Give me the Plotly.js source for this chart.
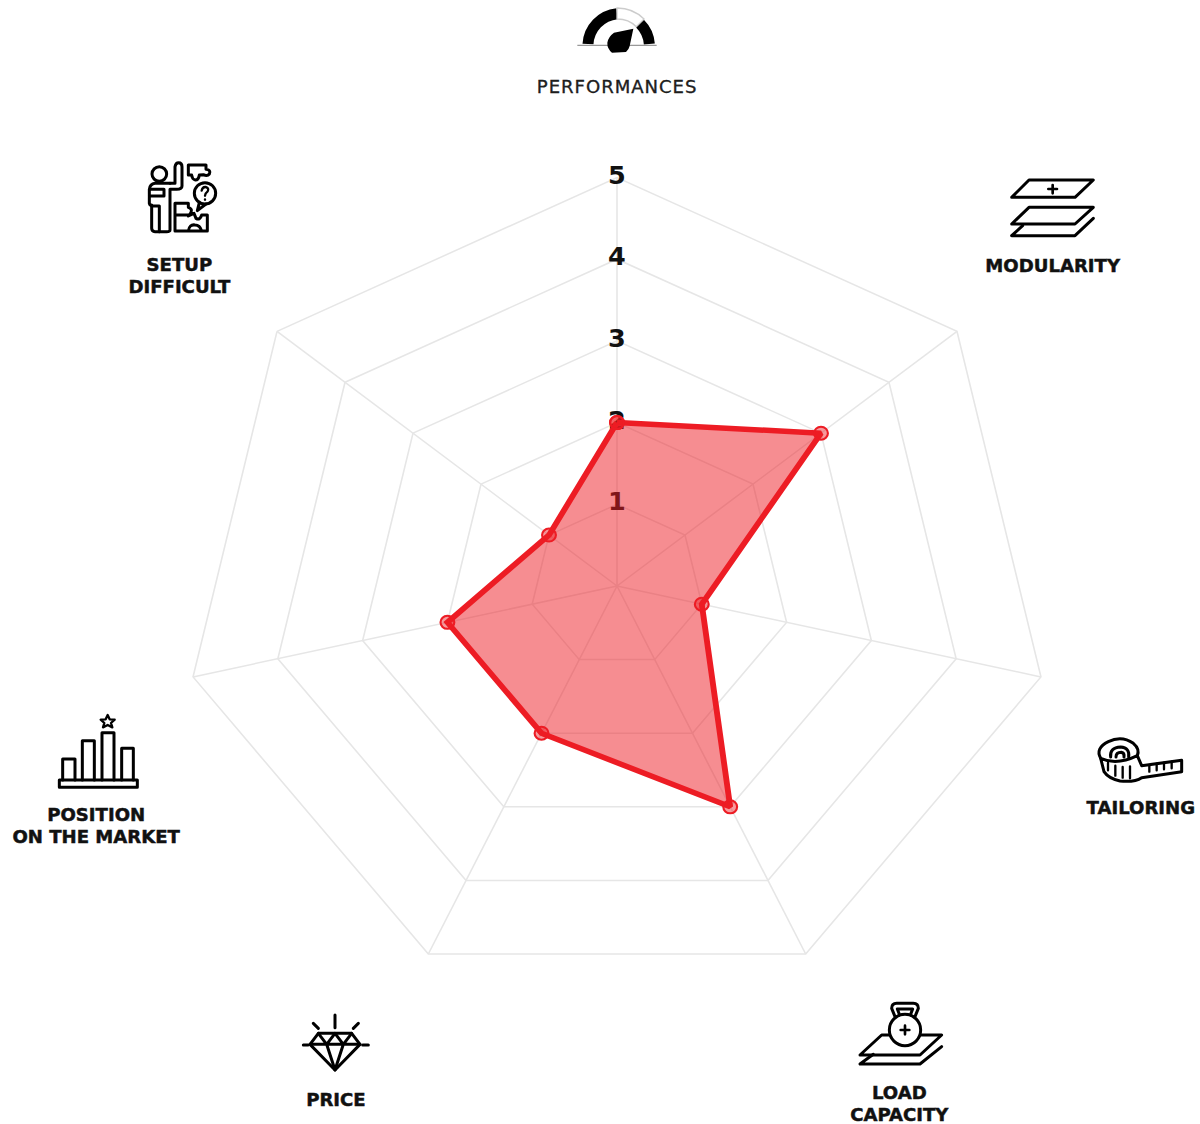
<!DOCTYPE html>
<html>
<head>
<meta charset="utf-8">
<script src="https://cdn.plot.ly/plotly-3.0.1.min.js"></script>
<style>
html,body{margin:0;padding:0;background:#fff;width:1200px;height:1124px;overflow:hidden}
#chart{width:1200px;height:1124px;transform-origin:617px 0;transform:scaleX(1.0645)}
#chart .annotation text{stroke:#111;stroke-width:.45px}
#chart .annotation[data-index="0"] text{letter-spacing:.9px;stroke-width:.3px}
</style>
</head>
<body>
<div id="chart"></div>
<script>
// ---- data ----
const categories = ['PERFORMANCES','MODULARITY','TAILORING','LOAD CAPACITY','PRICE','POSITION ON THE MARKET','SETUP DIFFICULT'];
const scores = [2,3,1,3,2,2,1];
const radialTicks = [1,2,3,4,5];
const radialTickLabels = ['1','2','3','4','5'];
const axisLabels = ['PERFORMANCES','MODULARITY','TAILORING','LOAD<br>CAPACITY','PRICE','POSITION<br>ON THE MARKET','SETUP<br>DIFFICULT'];
// ---- layout constants (target pixel positions) ----
const W=1200,H=1124,CX=617,CY=586,R=408.5,STRETCH=1.0645;
const labelX=[617,1053,1141,900,336,96,180];
const labelY=[87,266,808,1104,1100,826,276];
const px=x=>(CX+(x-CX)/STRETCH)/W;
const py=y=>1-y/H;
const RED='#ed1c24';
const S='fill="none" stroke="#000" stroke-width="9" stroke-linejoin="round" stroke-linecap="round"';
// icons: drawn in 3x crop units; box=[left,top,width,height] in target pixels
const icons=[
{box:[520,0,200,110],body:`
 <g fill="none" stroke-width="33"><path d="M204 132A97 97 0 0 1 291 41" stroke="#000"/><path d="M360 71A97 97 0 0 1 388 132" stroke="#000"/></g>
 <path d="M291 24A114 114 0 0 1 372 57L349 80A81 81 0 0 0 291 57Z" fill="#fff" stroke="#ccc" stroke-width="4"/>
 <path d="M172 136H410" stroke="#999" stroke-width="4"/>
 <path d="M340 86L282 98Q265 110 262 128Q261 145 276 158L318 156Q327 148 329 138Z" fill="#000"/>`},
{box:[980,165,150,120],body:`<g ${S}>
 <path d="M147 45H340L285 97H95Z"/><path d="M218 60V85M205 72H231" stroke-width="8"/>
 <path d="M147 127H340L285 177H95Z"/><path d="M128 182L95 212H285L340 160"/></g>`},
{box:[1080,725,120,100],body:`<g ${S}>
 <path d="M62 100Q45 70 85 50Q125 30 160 55Q180 72 172 92"/>
 <path d="M92 96Q88 68 122 66Q150 68 146 96M108 96Q108 82 124 82Q134 84 132 96"/>
 <path d="M62 100Q110 122 172 92L185 122L305 106V140L185 158Q165 172 120 168Q85 160 72 140Z"/>
 <path d="M84 114V136M106 122V152M128 126V158M150 124V160M208 120V140M230 116V136M252 113V133M275 110V130" stroke-width="7"/></g>`},
{box:[840,995,120,129],body:`<g ${S}>
 <path d="M125 120H305L240 180H60Z"/><path d="M100 178L60 207H240L305 155"/>
 <circle cx="195" cy="105" r="47" fill="#fff"/>
 <path d="M165 65L155 40Q155 25 170 25H220Q235 25 235 40L225 65M178 58L172 42H218L212 58"/>
 <path d="M195 92V118M182 105H208" stroke-width="8"/></g>`},
{box:[290,1005,90,110],body:`<g ${S}>
 <path d="M60 118L85 85H185L210 118L135 195Z"/><path d="M85 85L110 118L135 85L160 118L185 85M60 118H210M110 118L135 195L160 118"/>
 <path d="M135 30V68M70 55L85 70M205 55L190 70M40 120H54M218 120H235"/></g>`},
{box:[5,705,180,150],body:`<g ${S}>
 <rect x="163" y="225" width="234" height="22"/>
 <path d="M173 225V162H210V225M232 225V107H268V225M291 225V83H327V225M350 225V130H385V225"/>
 <path d="M308 30L314 43L329 44L318 54L322 67L308 60L294 67L298 54L287 44L302 43Z" stroke-width="7"/></g>`},
{box:[120,150,120,150],body:`<g ${S}>
 <circle cx="118" cy="72" r="22"/>
 <path d="M150 100H165V50Q167 38 176 38Q186 38 186 50V108Q186 118 170 118H150V240Q150 245 140 245H105Q95 245 95 235V165"/>
 <path d="M150 100H105Q90 102 88 118V160Q90 168 100 168H118V245M88 118H132V138H90"/>
 <path d="M205 45H258V58Q274 60 268 72Q262 80 250 74L238 75Q236 90 226 90Q216 88 215 75H205Z"/>
 <circle cx="255" cy="130" r="32"/><path d="M238 158L232 182L258 162"/>
 <path d="M245 122Q247 110 257 111Q268 114 263 124Q255 130 255 137M255 148V149" stroke-width="7"/>
 <path d="M165 160H205V172Q222 178 208 195H165ZM165 195V243H262V195H245Q240 212 228 205L222 190L205 198M205 243Q208 222 225 225Q240 225 245 243"/></g>`}
];
const images=icons.map(ic=>{
  const [l,t,w,h]=ic.box;
  const svg=`<svg xmlns="http://www.w3.org/2000/svg" viewBox="0 0 ${w*3} ${h*3}" width="${w*3}" height="${h*3}" preserveAspectRatio="none">${ic.body}</svg>`;
  return {source:'data:image/svg+xml;charset=utf-8,'+encodeURIComponent(svg),xref:'paper',yref:'paper',
    x:px(l),y:py(t),sizex:w/STRETCH/W,sizey:h/H,xanchor:'left',yanchor:'top',sizing:'stretch',layer:'above'};
});
const annotations=axisLabels.map((t,i)=>({text:t,xref:'paper',yref:'paper',x:px(labelX[i]),y:py(labelY[i]),
  xanchor:'center',yanchor:'middle',showarrow:false,align:'center',
  font:{family:'"DejaVu Sans",sans-serif',size:i===0?17:17,color:i===0?'#222':'#111',weight:i===0?400:700}}));

const traces=[
{type:'scatterpolar',mode:'text',r:radialTicks,theta:radialTicks.map(()=>categories[0]),text:radialTickLabels,
 textposition:'middle center',textfont:{family:'"DejaVu Sans",sans-serif',size:24,color:'#111',weight:700},
 hoverinfo:'skip',showlegend:false},
{type:'scatterpolar',mode:'lines+markers',r:[...scores,scores[0]],theta:[...categories,categories[0]],
 fill:'toself',fillcolor:'rgba(237,28,36,0.5)',line:{color:RED,width:5.5},
 marker:{size:13,color:'rgba(237,28,36,0.45)',line:{color:RED,width:2}},showlegend:false}
];
const layout={width:W,height:H,margin:{l:0,r:0,t:0,b:0},paper_bgcolor:'#fff',plot_bgcolor:'#fff',showlegend:false,
 polar:{domain:{x:[(CX-R)/W,(CX+R)/W],y:[1-(CY+R)/H,1-(CY-R)/H]},gridshape:'linear',bgcolor:'#fff',
  radialaxis:{range:[0,5],tickvals:radialTicks,showticklabels:false,ticks:'',showline:false,gridcolor:'#e6e6e6',gridwidth:1.5,angle:90,layer:'below traces'},
  angularaxis:{type:'category',categoryorder:'array',categoryarray:categories,direction:'clockwise',rotation:90,layer:'below traces',
   showticklabels:false,ticks:'',showline:true,linecolor:'#e6e6e6',linewidth:1.5,gridcolor:'#e6e6e6',gridwidth:1.5}},
 images,annotations};
Plotly.newPlot('chart',traces,layout,{staticPlot:true,displayModeBar:false});
</script>
</body>
</html>
